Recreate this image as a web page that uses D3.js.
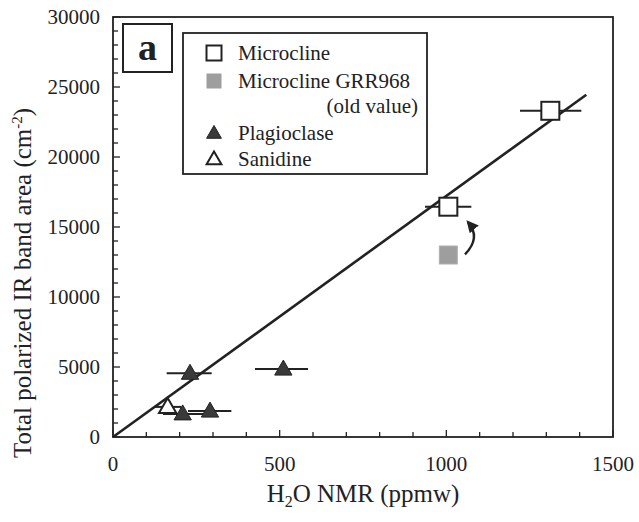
<!DOCTYPE html>
<html>
<head>
<meta charset="utf-8">
<script src="https://cdn.jsdelivr.net/npm/d3@7"></script>
<style>
  body { margin: 0; background: #fff; }
  text { font-family: "Liberation Serif", "DejaVu Serif", serif; fill: #222; }
</style>
</head>
<body>
<div id="chart"></div>
<script>
// data
var microcline = [
  { x: 1006, y: 16450, xlo: 936, xhi: 1075 },
  { x: 1312, y: 23300, xlo: 1221, xhi: 1405 }
];
var microclineOld = [{ x: 1006, y: 13000 }];
var plagioclase = [
  { x: 231, y: 4550, xlo: 161, xhi: 296 },
  { x: 511, y: 4850, xlo: 426, xhi: 585 },
  { x: 209, y: 1650, xlo: 150, xhi: 270 },
  { x: 291, y: 1850, xlo: 225, xhi: 355 }
];
var sanidine = [{ x: 164, y: 2150, xlo: 126, xhi: 204 }];
var fitLine = [[0, 0], [1420, 24450]];
var arrowPts = [[1056, 13050], [1105, 14250], [1065, 15350]];
var xTicks = [0, 500, 1000, 1500];
var yTicks = [0, 5000, 10000, 15000, 20000, 25000, 30000];

var W = 639, H = 522;
var margin = { left: 113, right: 613, top: 17, bottom: 437 };

var svg = d3.select("#chart").append("svg")
  .attr("width", W).attr("height", H);

var x = d3.scaleLinear().domain([0, 1500]).range([margin.left, margin.right]);
var y = d3.scaleLinear().domain([0, 30000]).range([margin.bottom, margin.top]);

var ink = "#222";

// frame
svg.append("rect")
  .attr("x", margin.left).attr("y", margin.top)
  .attr("width", margin.right - margin.left).attr("height", margin.bottom - margin.top)
  .attr("fill", "none").attr("stroke", ink).attr("stroke-width", 1.8);

// ticks (inward)
svg.append("g").selectAll("line")
  .data(d3.range(0, 1501, 100))
  .join("line")
  .attr("x1", d => x(d)).attr("x2", d => x(d))
  .attr("y1", margin.bottom).attr("y2", d => margin.bottom - (d % 500 === 0 ? 7 : 5))
  .attr("stroke", ink).attr("stroke-width", 1.3);

svg.append("g").selectAll("line")
  .data(d3.range(0, 30001, 1000))
  .join("line")
  .attr("y1", d => y(d)).attr("y2", d => y(d))
  .attr("x1", margin.left).attr("x2", d => margin.left + (d % 5000 === 0 ? 7 : 5))
  .attr("stroke", ink).attr("stroke-width", 1.3);

// tick labels
svg.append("g").selectAll("text")
  .data(xTicks)
  .join("text")
  .attr("x", d => x(d)).attr("y", 471)
  .attr("text-anchor", "middle")
  .attr("font-size", 21)
  .text(d => d);

svg.append("g").selectAll("text")
  .data(yTicks)
  .join("text")
  .attr("x", 100).attr("y", d => y(d) + 7)
  .attr("text-anchor", "end")
  .attr("font-size", 21)
  .text(d => d);

// axis titles
var xt = svg.append("text")
  .attr("x", 363).attr("y", 502)
  .attr("text-anchor", "middle")
  .attr("font-size", 25);
xt.append("tspan").text("H");
xt.append("tspan").attr("font-size", 16).attr("dy", 5).text("2");
xt.append("tspan").attr("dy", -5).text("O NMR (ppmw)");

var yt = svg.append("text")
  .attr("transform", "translate(31,283) rotate(-90)")
  .attr("text-anchor", "middle")
  .attr("font-size", 25);
yt.append("tspan").text("Total polarized IR band area (cm");
yt.append("tspan").attr("font-size", 15).attr("dy", -9).text("-2");
yt.append("tspan").attr("dy", 9).text(")");

// regression line
svg.append("path")
  .attr("d", d3.line().x(d => x(d[0])).y(d => y(d[1]))(fitLine))
  .attr("stroke", ink).attr("stroke-width", 2.6).attr("fill", "none");

// error bars
var withErr = microcline.concat(plagioclase, sanidine);
svg.append("g").selectAll("line")
  .data(withErr)
  .join("line")
  .attr("x1", d => x(d.xlo)).attr("x2", d => x(d.xhi))
  .attr("y1", d => y(d.y)).attr("y2", d => y(d.y))
  .attr("stroke", ink).attr("stroke-width", 2);

// arrow
svg.append("defs").append("marker")
  .attr("id", "head")
  .attr("viewBox", "0 0 10 10")
  .attr("refX", 8).attr("refY", 5)
  .attr("markerWidth", 5).attr("markerHeight", 5)
  .attr("orient", "auto")
  .append("path").attr("d", "M0,0 L10,5 L0,10 z").attr("fill", ink);

var a0 = arrowPts[0], a1 = arrowPts[1], a2 = arrowPts[2];
svg.append("path")
  .attr("d", "M" + x(a0[0]) + "," + y(a0[1]) +
    " Q" + x(a1[0]) + "," + y(a1[1]) + " " + x(a2[0]) + "," + y(a2[1]))
  .attr("fill", "none").attr("stroke", ink).attr("stroke-width", 2.4)
  .attr("marker-end", "url(#head)");

// markers
var sq = 18;
svg.append("g").selectAll("rect")
  .data(microcline)
  .join("rect")
  .attr("x", d => x(d.x) - sq / 2).attr("y", d => y(d.y) - sq / 2)
  .attr("width", sq).attr("height", sq)
  .attr("fill", "#fff").attr("stroke", ink).attr("stroke-width", 2);

svg.append("g").selectAll("rect")
  .data(microclineOld)
  .join("rect")
  .attr("x", d => x(d.x) - sq / 2).attr("y", d => y(d.y) - sq / 2)
  .attr("width", sq).attr("height", sq)
  .attr("fill", "#9e9e9e").attr("stroke", "#b0b0b0").attr("stroke-width", 1);

var tri = d3.symbol().type(d3.symbolTriangle).size(130);
svg.append("g").selectAll("path")
  .data(plagioclase)
  .join("path")
  .attr("d", tri)
  .attr("transform", d => "translate(" + x(d.x) + "," + (y(d.y) + 1) + ")")
  .attr("fill", "#3a3a3a").attr("stroke", ink).attr("stroke-width", 1);

svg.append("g").selectAll("path")
  .data(sanidine)
  .join("path")
  .attr("d", tri)
  .attr("transform", d => "translate(" + x(d.x) + "," + (y(d.y) + 1) + ")")
  .attr("fill", "#fff").attr("stroke", ink).attr("stroke-width", 2);

// "a" label
svg.append("rect")
  .attr("x", 123).attr("y", 24).attr("width", 49).attr("height", 48)
  .attr("fill", "#fff").attr("stroke", ink).attr("stroke-width", 2);
svg.append("text")
  .attr("x", 147.5).attr("y", 60)
  .attr("text-anchor", "middle")
  .attr("font-size", 38).attr("font-weight", "bold")
  .text("a");

// legend
svg.append("rect")
  .attr("x", 183).attr("y", 33).attr("width", 244).attr("height", 141)
  .attr("fill", "#fff").attr("stroke", ink).attr("stroke-width", 1.8);

var mx = 214, tx = 238, ls = 15;
svg.append("rect")
  .attr("x", mx - ls / 2).attr("y", 53 - ls / 2).attr("width", ls).attr("height", ls)
  .attr("fill", "#fff").attr("stroke", ink).attr("stroke-width", 2);
svg.append("rect")
  .attr("x", mx - ls / 2).attr("y", 81 - ls / 2).attr("width", ls).attr("height", ls)
  .attr("fill", "#9e9e9e");
var ltri = d3.symbol().type(d3.symbolTriangle).size(95);
svg.append("path").attr("d", ltri)
  .attr("transform", "translate(" + mx + ",134)")
  .attr("fill", "#3a3a3a").attr("stroke", ink).attr("stroke-width", 1);
svg.append("path").attr("d", ltri)
  .attr("transform", "translate(" + mx + ",160)")
  .attr("fill", "#fff").attr("stroke", ink).attr("stroke-width", 2);

var legendText = [
  { t: "Microcline", x: tx, y: 60, anchor: "start" },
  { t: "Microcline GRR968", x: tx, y: 88, anchor: "start" },
  { t: "(old value)", x: 418, y: 113, anchor: "end" },
  { t: "Plagioclase", x: tx, y: 140, anchor: "start" },
  { t: "Sanidine", x: tx, y: 166, anchor: "start" }
];
svg.append("g").selectAll("text")
  .data(legendText)
  .join("text")
  .attr("x", d => d.x).attr("y", d => d.y)
  .attr("text-anchor", d => d.anchor)
  .attr("font-size", 21)
  .text(d => d.t);
</script>
</body>
</html>
